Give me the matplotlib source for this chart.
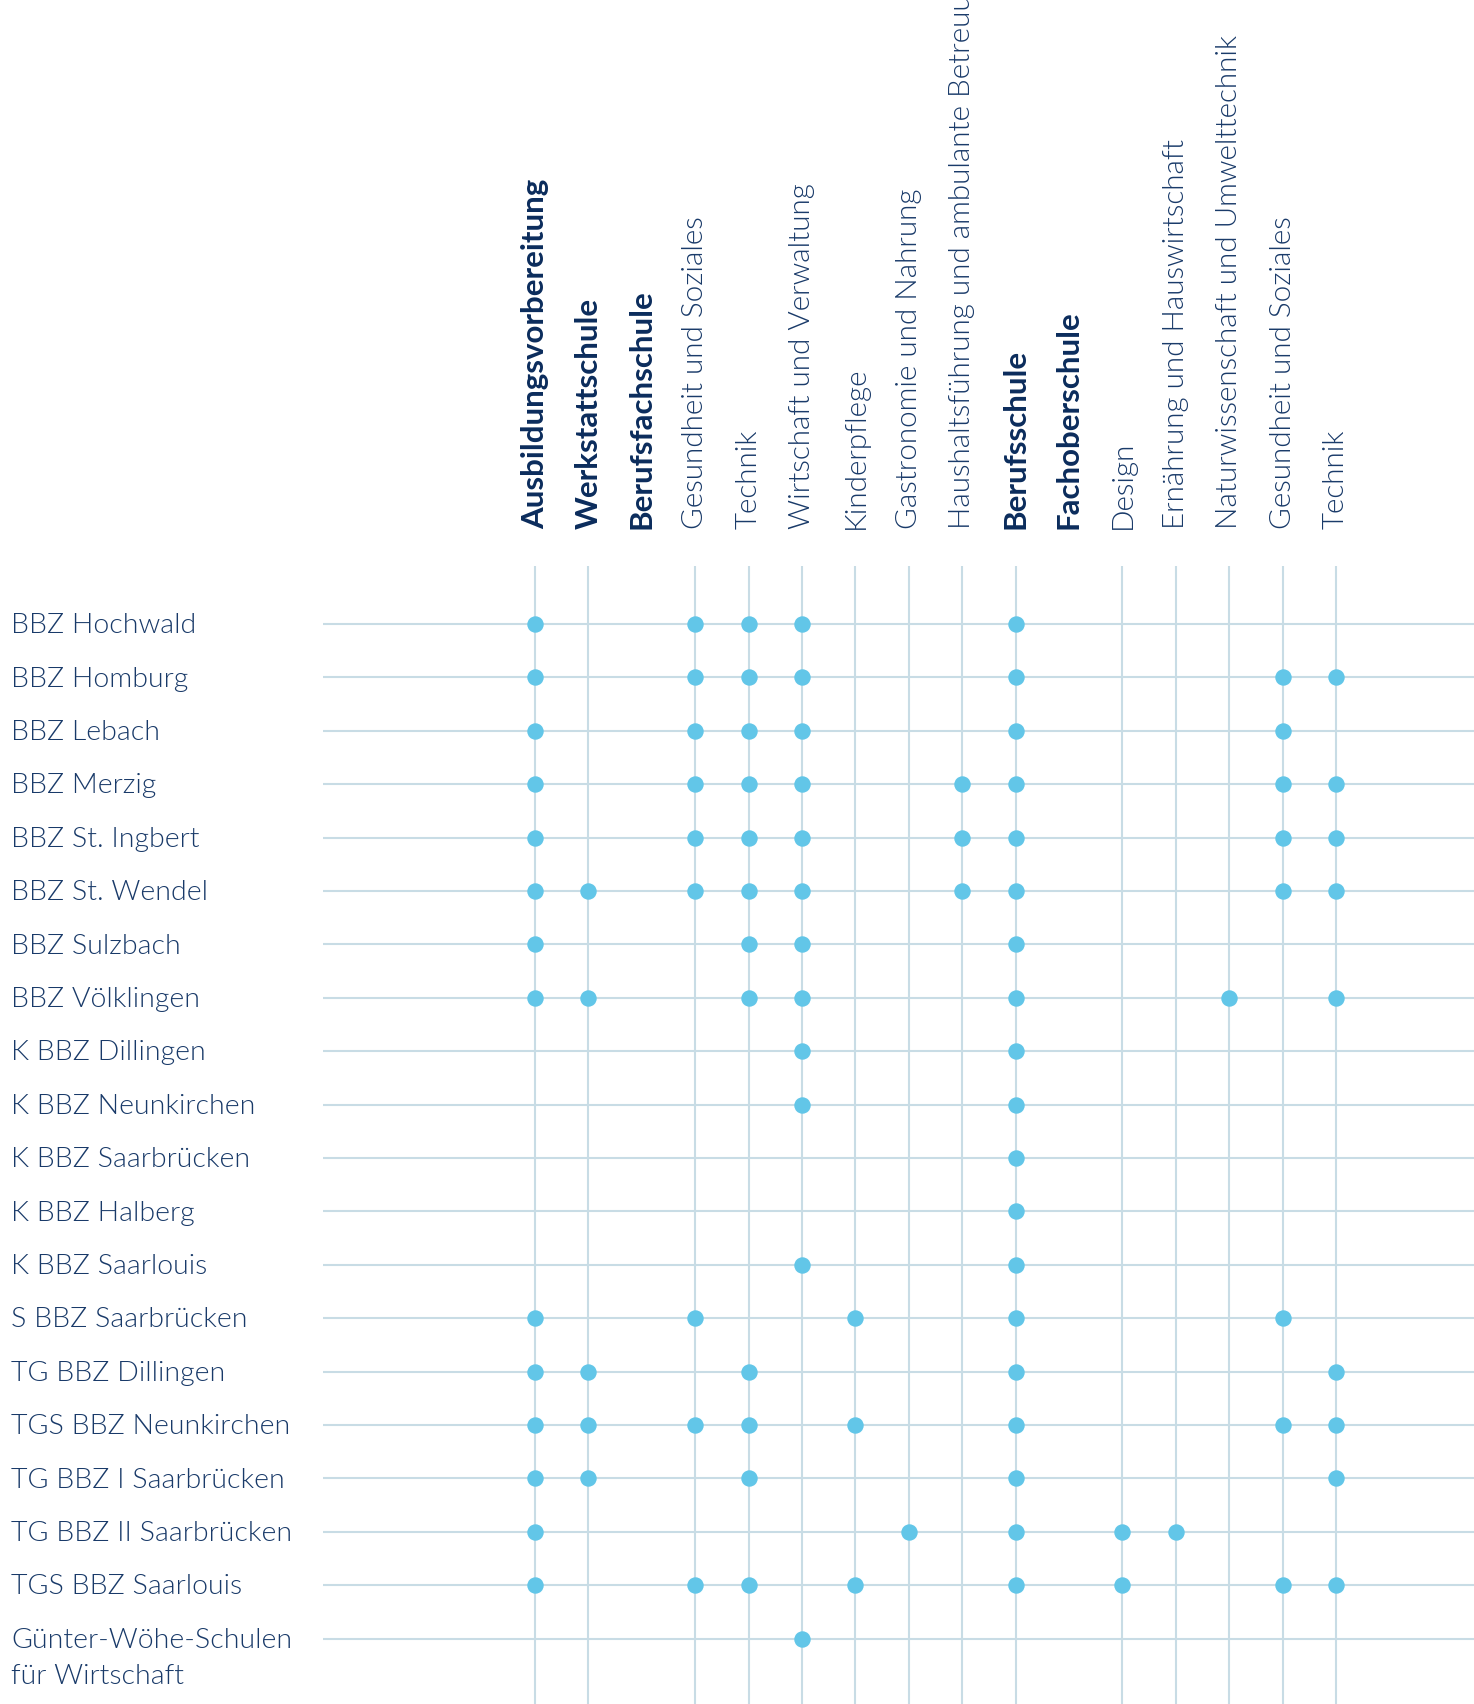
import matplotlib.pyplot as plt
from matplotlib.transforms import blended_transform_factory

# Column headers (bold = school type, the rest = subject areas)
columns = ['Ausbildungsvorbereitung', 'Werkstattschule', 'Berufsfachschule',
           'Gesundheit und Soziales', 'Technik', 'Wirtschaft und Verwaltung',
           'Kinderpflege', 'Gastronomie und Nahrung',
           'Haushaltsführung und ambulante Betreuung', 'Berufsschule',
           'Fachoberschule', 'Design', 'Ernährung und Hauswirtschaft',
           'Naturwissenschaft und Umwelttechnik', 'Gesundheit und Soziales',
           'Technik']
bold_cols = [0, 1, 2, 9, 10]
no_line_cols = [2, 10]

schools = ['BBZ Hochwald', 'BBZ Homburg', 'BBZ Lebach', 'BBZ Merzig',
           'BBZ St. Ingbert', 'BBZ St. Wendel', 'BBZ Sulzbach', 'BBZ Völklingen',
           'K BBZ Dillingen', 'K BBZ Neunkirchen', 'K BBZ Saarbrücken',
           'K BBZ Halberg', 'K BBZ Saarlouis', 'S BBZ Saarbrücken',
           'TG BBZ Dillingen', 'TGS BBZ Neunkirchen', 'TG BBZ I Saarbrücken',
           'TG BBZ II Saarbrücken', 'TGS BBZ Saarlouis',
           'Günter-Wöhe-Schulen\nfür Wirtschaft']

# Offered columns per school (index into columns)
offers = [
    [0, 3, 4, 5, 9],
    [0, 3, 4, 5, 9, 14, 15],
    [0, 3, 4, 5, 9, 14],
    [0, 3, 4, 5, 8, 9, 14, 15],
    [0, 3, 4, 5, 8, 9, 14, 15],
    [0, 1, 3, 4, 5, 8, 9, 14, 15],
    [0, 4, 5, 9],
    [0, 1, 4, 5, 9, 13, 15],
    [5, 9],
    [5, 9],
    [9],
    [9],
    [5, 9],
    [0, 3, 6, 9, 14],
    [0, 1, 4, 9, 15],
    [0, 1, 3, 4, 6, 9, 14, 15],
    [0, 1, 4, 9, 15],
    [0, 7, 9, 11, 12],
    [0, 3, 4, 6, 9, 11, 14, 15],
    [5],
]

dot_color = '#62C6E8'
grid_color = '#C8DCE5'
text_color = '#193A69'
bold_color = '#0B2C5C'

plt.rcParams['font.family'] = ['Lato', 'DejaVu Sans']

W, H = 1474, 1704
fig = plt.figure(figsize=(W / 100, H / 100), dpi=100)

# grid area in pixels: x 323..1474, y 566..1704 (from top)
x0_px, y0_px = 323, 566
step = 53.4
col0_px, row0_px = 535, 624
ax = fig.add_axes([x0_px / W, 0, 1 - x0_px / W, 1 - y0_px / H])
ax.set_xlim((x0_px - col0_px) / step, (W - col0_px) / step)
ax.set_ylim((H - row0_px) / step, (y0_px - row0_px) / step)
ax.axis('off')

for i in range(len(columns)):
    if i not in no_line_cols:
        ax.axvline(i, color=grid_color, lw=1.5, zorder=1)
for j in range(len(schools)):
    ax.axhline(j, color=grid_color, lw=1.5, zorder=1)

xs, ys = [], []
for j, cols in enumerate(offers):
    for i in cols:
        xs.append(i)
        ys.append(j)
ax.scatter(xs, ys, s=140, color=dot_color, zorder=3, linewidths=0)

# row labels
row_tr = blended_transform_factory(fig.transFigure, ax.transData)
for j, name in enumerate(schools):
    for k, line in enumerate(name.split('\n')):
        ax.text(11 / W, j + 0.03 + k * 0.68, line, transform=row_tr, ha='left',
                va='center', fontsize=20.5, fontweight=300, color=text_color,
                clip_on=False)

# column labels (the long one runs off the top, as in the original)
col_tr = blended_transform_factory(ax.transData, fig.transFigure)
for i, name in enumerate(columns):
    bold = i in bold_cols
    ax.text(i, 1 - 529 / H, name, transform=col_tr, rotation=90,
            ha='center', va='bottom', fontsize=22.5 if bold else 21.3,
            fontweight='bold' if bold else 300,
            color=bold_color if bold else text_color, clip_on=False)

fig.savefig('out.png', dpi=100)
